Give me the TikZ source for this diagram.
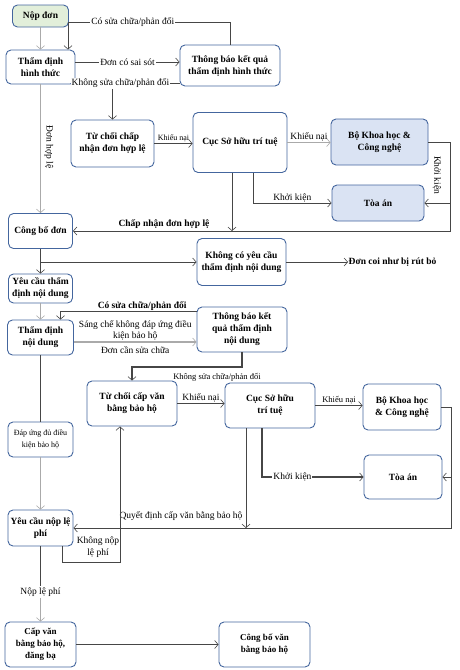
\documentclass[tikz,border=0pt]{standalone}
\usepackage{fontspec}
\setmainfont{Liberation Serif}
\usetikzlibrary{positioning,arrows.meta,calc}
\definecolor{boxclr}{RGB}{68,102,158}
\definecolor{greenfill}{RGB}{226,239,218}
\definecolor{bluefill}{RGB}{218,227,243}
\definecolor{lgray}{RGB}{170,170,170}
\definecolor{dgray}{RGB}{70,70,70}
\tikzset{
  proc/.style={rectangle,draw=boxclr,line width=0.9pt,fill=white,rounded corners=5pt,
               align=center,inner sep=1pt,font=\fontsize{9.5}{12}\selectfont\bfseries},
  procg/.style={proc,fill=greenfill},
  procb/.style={proc,fill=bluefill},
  flow/.style={draw=dgray,line width=0.6pt,-{Straight Barb[length=3.5pt,width=8pt,line width=0.6pt]}},
  flowg/.style={flow,draw=lgray,line width=1.3pt},
  flowk/.style={flow,line width=1.3pt},
  lbl/.style={font=\fontsize{9.5}{11.5}\selectfont,inner sep=1pt,align=center},
  lblw/.style={lbl,fill=white},
  lblb/.style={lbl,font=\fontsize{9.5}{11.5}\selectfont\bfseries},
}

\begin{document}
\begin{tikzpicture}[x=1pt,y=-1pt]
\useasboundingbox (0,0) rectangle (460,670);
% formal examination
\node[procg,minimum width=56pt,minimum height=22pt] (nopdon) at (40.5,16) {Nộp đơn};
\node[proc,minimum width=69pt,minimum height=34pt] (tdht) at (40.5,67) {Thẩm định\\hình thức};
\node[proc,minimum width=100pt,minimum height=41pt] (tbht) at (230,65.5) {Thông báo kết quả\\thẩm định hình thức};
\node[proc,minimum width=83pt,minimum height=47pt] (tcdon) at (112.5,143.5) {Từ chối chấp\\nhận đơn hợp lệ};
\node[proc,minimum width=94pt,minimum height=60pt] (cuc1) at (240,142.5) {Cục Sở hữu trí tuệ};
\node[procb,minimum width=97pt,minimum height=46pt] (bkh1) at (379.5,142) {Bộ Khoa học \&\\Công nghệ};
\node[procb,minimum width=92pt,minimum height=36pt] (toa1) at (378,203) {Tòa án};
\node[proc,minimum width=64pt,minimum height=35pt] (cbdon) at (40.5,231) {Công bố đơn};
% substantive examination
\node[proc,minimum width=89pt,minimum height=47pt] (khongyc) at (241.5,262) {Không có yêu cầu\\thẩm định nội dung};
\node[lblb,anchor=west,inner sep=0.5pt] (rutbo) at (348,262) {Đơn coi như bị rút bỏ};
\node[proc,minimum width=64pt,minimum height=29pt] (yctd) at (40.5,288.5) {Yêu cầu thẩm\\định nội dung};
\node[proc,minimum width=66pt,minimum height=35pt] (tdnd) at (40.5,337.5) {Thẩm định\\nội dung};
\node[proc,minimum width=90pt,minimum height=45pt] (tbnd) at (242,329.5) {Thông báo kết\\quả thẩm định\\nội dung};
\node[proc,minimum width=90pt,minimum height=45pt] (tccap) at (132,403.5) {Từ chối cấp văn\\bằng bảo hộ};
\node[proc,minimum width=90pt,minimum height=45pt] (cuc2) at (270,405.5) {Cục Sở hữu\\trí tuệ};
\node[proc,minimum width=78pt,minimum height=46pt] (bkh2) at (402,407) {Bộ Khoa học\\\& Công nghệ};
\node[proc,minimum width=78pt,minimum height=44pt] (toa2) at (403,477) {Tòa án};
\node[proc,font=\fontsize{8}{12}\selectfont,minimum width=65pt,minimum height=35pt] (dapung) at (40.5,439.5) {Đáp ứng đủ điều\\kiện bảo hộ};
\node[proc,minimum width=65pt,minimum height=36pt] (ycnop) at (40.5,528) {Yêu cầu nộp lệ\\phí};
\node[proc,font=\fontsize{9}{12}\selectfont\bfseries,minimum width=71pt,minimum height=45pt] (capvb) at (40.5,644.5) {Cấp văn\\bằng bảo hộ,\\đăng bạ};
\node[proc,font=\fontsize{9}{12}\selectfont\bfseries,minimum width=91pt,minimum height=45pt] (cbvb) at (264.5,644.5) {Công bố văn\\bằng bảo hộ};

% connectors, first part
\draw[flowg] (nopdon) -- (tdht);
\coordinate (c1) at (68,22);
\draw[flow] (tbht.north) |- node[lblw,pos=0.8] {Có sửa chữa/phản đối} (c1) -- (c1 |- tdht.north);
\coordinate (c2) at ([yshift=5pt]tdht.east);
\draw[flow] (c2) -- node[lblw] {Đơn có sai sót} (c2 -| tbht.west);
\coordinate (c3) at ([yshift=3pt]tbht.south west);
\draw[flow] (c3) -| node[lblw,pos=0.44] {Không sửa chữa/phản đối} (tcdon.north);
\draw[flowg] (tdht) -- (cbdon);
\node[lbl,rotate=-90] (lbhople) at (49,147) {Đơn hợp lệ};
\draw[flow] (tcdon.east) -- node[lbl,above,font=\fontsize{8}{9}\selectfont] {Khiếu nại} (tcdon.east -| cuc1.west);
\draw[flowg,line width=1pt] (cuc1.east) -- node[lbl,above] {Khiếu nại} (cuc1.east -| bkh1.west);
\coordinate (c4) at ([xshift=13pt]cuc1.south);
\draw[flow] (c4) |- node[lbl,above,pos=0.75] {Khởi kiện} (toa1.west);
\coordinate (c5) at (450,231);
\draw[flow] (bkh1.east) -| (c5) -- (c5 -| cbdon.east);
\draw[flow] (c5 |- toa1.east) -- (toa1.east);
\node[lbl,rotate=-90] (lbkk1) at (437,175) {Khởi kiện};
\node[lblb] (lbchap) at (164,224) {Chấp nhận đơn hợp lệ};
\coordinate (c6) at ([xshift=-8pt]cuc1.south);
\draw[flow] (c6) -- (c6 |- c5);

% connectors, second part
\draw[flow] (cbdon) -- (yctd);
\coordinate (c7) at (40.5,262);
\draw[flow] (c7) -- (khongyc.west);
\draw[flow] (khongyc) -- (rutbo);
\draw[flowg] (yctd) -- (tdnd);
\coordinate (c8) at ([yshift=-5pt]tbnd.north west);
\coordinate (c9) at ([xshift=20pt]tdnd.north);
\draw[flow] (c8) -| node[lblb,above,pos=0.2] {Có sửa chữa/phản đối} (c9);
\coordinate (c10) at ([yshift=-4.5pt]tdnd.east);
\draw[flowg] (c10) -- node[lbl,above] {Sáng chế không đáp ứng điều\\kiện bảo hộ}
  node[lbl,below=3pt] {Đơn cần sửa chữa} (c10 -| tbnd.west);
\coordinate (c11) at (132,367);
\draw[flowk] (tbnd.south) |- (c11) -- (tccap.north);
\node[lbl,font=\fontsize{8.5}{10}\selectfont] (lbks2) at (217,377) {Không sửa chữa/phản đối};
\draw[flow] (tccap.east) -- node[lbl,above] {Khiếu nại} (tccap.east -| cuc2.west);
\draw[flow] (cuc2.east) -- node[lbl,above,font=\fontsize{8.5}{10}\selectfont] {Khiếu nại} (cuc2.east -| bkh2.west);
\coordinate (c12) at ([xshift=-8pt]cuc2.south);
\draw[flowk] (c12) |- node[lblw,pos=0.65] {Khởi kiện} (toa2.west);
\coordinate (c13) at (451,528);
\draw[flow] (bkh2.east) -| (c13) -- (c13 -| ycnop.east);
\draw[flow] (c13 |- toa2.east) -- (toa2.east);
\node[lbl] (lbqd) at (181,516) {Quyết định cấp văn bằng bảo hộ};
\coordinate (c14) at ([xshift=-24pt]cuc2.south);
\draw[flow] (c14) -- (c14 |- c13);
\coordinate (c15) at ([xshift=22pt]ycnop.south);
\coordinate (c16) at (120,562);
\draw[flow] (c15) |- (c16) -- (c16 |- tccap.south);
\node[lbl] (lbkn) at (98,547) {Không nộp\\lệ phí};
\draw[flowk,-] (tdnd) -- (dapung);
\draw[flowg] (dapung) -- (ycnop);
\node[lblw] (lbnop) at (40.5,592) {Nộp lệ phí};
\draw[flowk,-] (ycnop) -- (lbnop);
\draw[flowg] (lbnop) -- (capvb);
\draw[flow] (capvb) -- (cbvb);
\end{tikzpicture}
\end{document}
